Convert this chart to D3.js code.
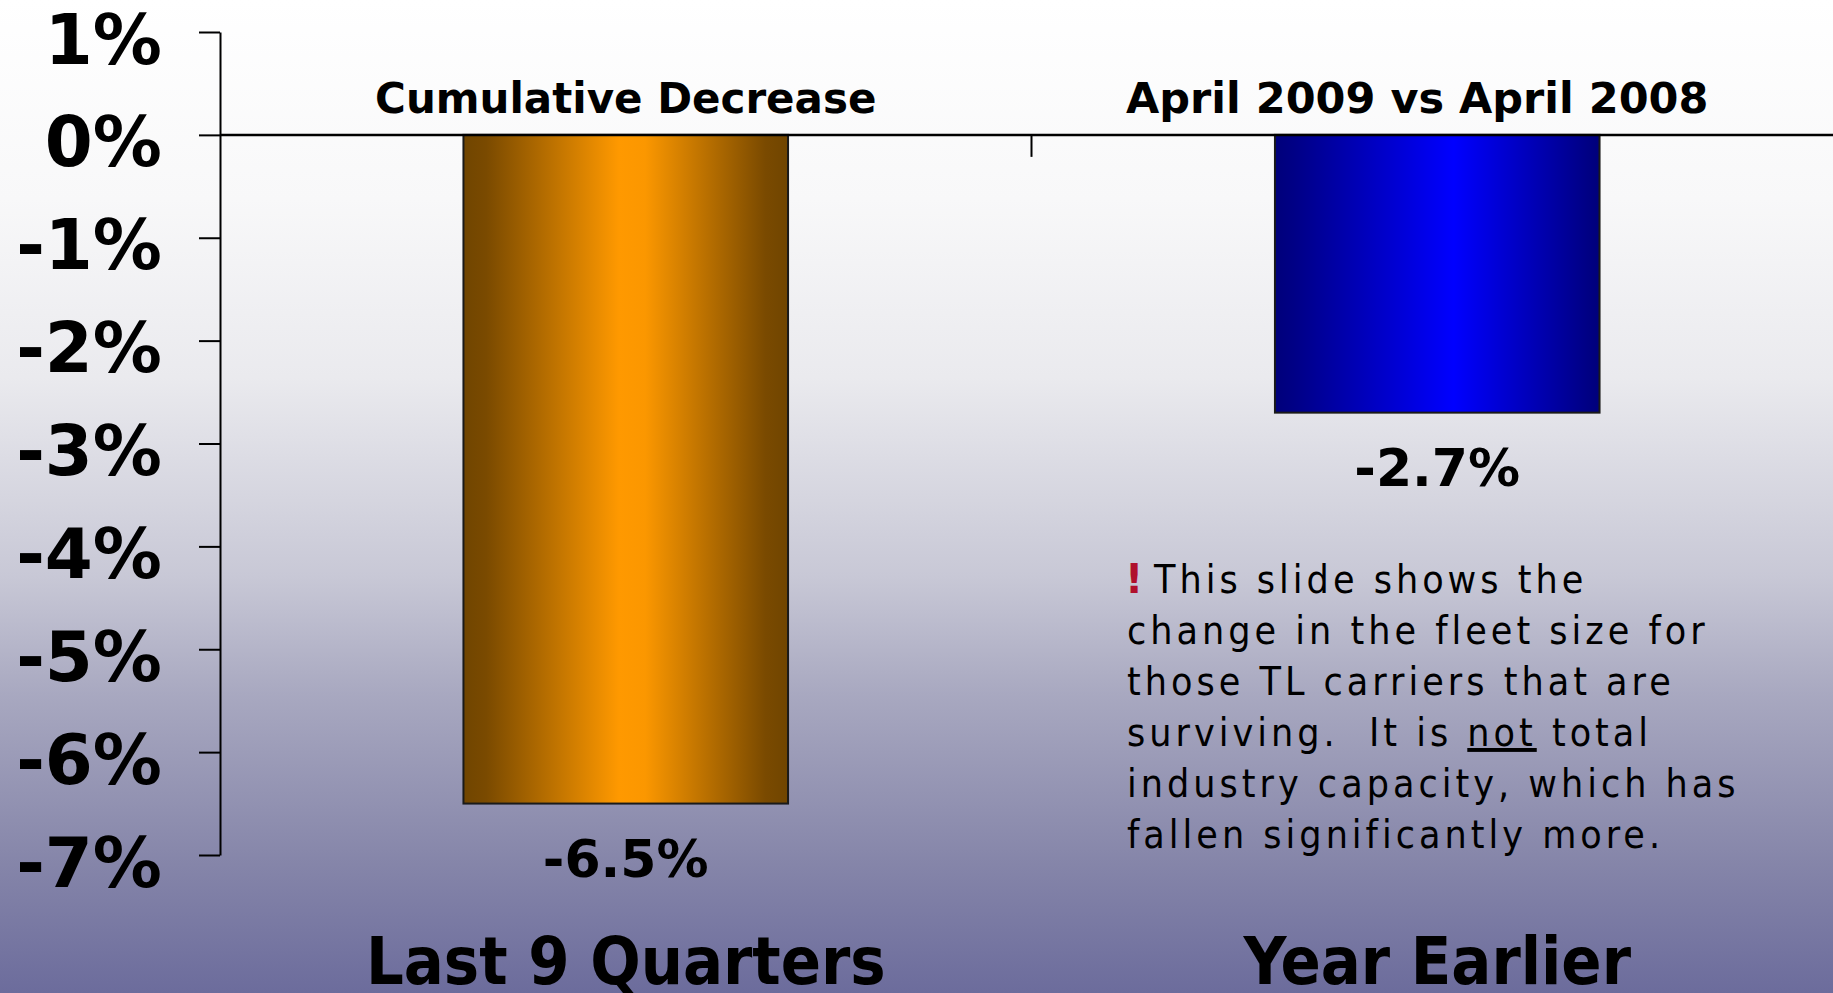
<!DOCTYPE html>
<html>
<head>
<meta charset="utf-8">
<script src="https://cdn.jsdelivr.net/npm/d3@7"></script>
<style>
    html, body { margin: 0; padding: 0; overflow: hidden; }
    #chart { width: 1833px; height: 993px; }
</style>
</head>
<body>
<div id="chart"></div>
<script>
var categories = ['Last 9 Quarters', 'Year Earlier'];
var values = [-6.5, -2.7];
var value_labels = ['-6.5%', '-2.7%'];
var subtitles = ['Cumulative Decrease', 'April 2009 vs April 2008'];
var y_ticks = [1, 0, -1, -2, -3, -4, -5, -6, -7];
var note_lines = [
    'This slide shows the',
    'change in the fleet size for',
    'those TL carriers that are',
    'surviving.  It is |not| total',
    'industry capacity, which has',
    'fallen significantly more.'
];

var width = 1833, height = 993;
var margin = {top: 32, left: 220, bottom: 138};

var svg = d3.select('#chart')
    .append('svg')
    .attr('width', width)
    .attr('height', height);

let defs = svg.append('defs');

// slide background
let bg = defs.append('linearGradient')
    .attr('id', 'bg-grad')
    .attr('x1', 0).attr('y1', 0).attr('x2', 0).attr('y2', 1);
[[0, '#ffffff'], [0.2, '#f8f8f9'], [0.38, '#eaeaee'], [0.58, '#c8c8d6'],
 [0.7, '#a8a8c0'], [0.87, '#8585a9'], [1, '#6c6c9c']].forEach(function(s) {
    bg.append('stop').attr('offset', s[0]).attr('stop-color', s[1]);
});

// bar fills, dark edges and bright middle
let bar_grads = [
    {id: 'grad-0', stops: [[0, '#704500'], [0.07, '#7a4a00'], [0.48, '#ff9900'], [0.56, '#fb9700'], [0.93, '#7a4a00'], [1, '#704500']]},
    {id: 'grad-1', stops: [[0, '#00007a'], [0.06, '#000086'], [0.55, '#0000ff'], [0.95, '#000088'], [1, '#00007a']]}
];
bar_grads.forEach(function(g) {
    let lg = defs.append('linearGradient')
        .attr('id', g.id)
        .attr('x1', 0).attr('y1', 0).attr('x2', 1).attr('y2', 0);
    g.stops.forEach(function(s) {
        lg.append('stop').attr('offset', s[0]).attr('stop-color', s[1]);
    });
});

svg.append('rect')
    .attr('width', width)
    .attr('height', height)
    .attr('fill', 'url(#bg-grad)');

let x = d3.scaleBand()
    .domain(categories)
    .range([margin.left, 1843])
    .paddingInner(0.6)
    .paddingOuter(0.3);

let y = d3.scaleLinear()
    .domain([-7, 1])
    .range([855, margin.top]);

// bars
svg.selectAll('.bar')
    .data(categories)
    .enter().append('rect')
    .attr('class', 'bar')
    .attr('x', function(d) { return x(d); })
    .attr('y', y(0))
    .attr('width', x.bandwidth())
    .attr('height', function(d, i) { return y(values[i]) - y(0); })
    .attr('fill', function(d, i) { return 'url(#grad-' + i + ')'; })
    .attr('stroke', '#1a1a1a')
    .attr('stroke-width', 2);

// y axis
let y_axis = svg.append('g')
    .attr('transform', 'translate(' + margin.left + ',0)')
    .call(d3.axisLeft(y)
        .tickValues(y_ticks)
        .tickFormat(function(d) { return d + '%'; })
        .tickSize(21)
        .tickSizeOuter(0)
        .tickPadding(37));

y_axis.select('.domain').attr('stroke', '#000').attr('stroke-width', 2);
y_axis.selectAll('.tick line').attr('stroke', '#000').attr('stroke-width', 2);
y_axis.selectAll('.tick text')
    .attr('dy', '0.45em')
    .attr('fill', '#000')
    .style('font-family', '"DejaVu Sans", Verdana, sans-serif')
    .style('font-weight', 'bold')
    .style('font-size', '69px');

// category axis along zero
svg.append('line')
    .attr('x1', margin.left)
    .attr('x2', 1843)
    .attr('y1', y(0))
    .attr('y2', y(0))
    .attr('stroke', '#000')
    .attr('stroke-width', 2.5);

svg.selectAll('.cat-tick')
    .data(categories.slice(1))
    .enter().append('line')
    .attr('class', 'cat-tick')
    .attr('x1', function(d) { return x(d) - x.step() * x.paddingInner() / 2; })
    .attr('x2', function(d) { return x(d) - x.step() * x.paddingInner() / 2; })
    .attr('y1', y(0))
    .attr('y2', y(0) + 22)
    .attr('stroke', '#000')
    .attr('stroke-width', 2);

// subtitles above the zero line (second one sits a little left of its bar)
let subtitle_shift = [0, -20];
svg.selectAll('.subtitle')
    .data(subtitles)
    .enter().append('text')
    .attr('class', 'subtitle')
    .attr('x', function(d, i) { return x(categories[i]) + x.bandwidth() / 2 + subtitle_shift[i]; })
    .attr('y', 113)
    .attr('text-anchor', 'middle')
    .style('font-family', '"DejaVu Sans", Verdana, sans-serif')
    .style('font-weight', 'bold')
    .style('font-size', function(d, i) { return i === 0 ? '42px' : '43px'; })
    .text(function(d) { return d; });

// value labels under the bars
svg.selectAll('.value-label')
    .data(value_labels)
    .enter().append('text')
    .attr('class', 'value-label')
    .attr('x', function(d, i) { return x(categories[i]) + x.bandwidth() / 2; })
    .attr('y', function(d, i) { return y(values[i]) + 73; })
    .attr('text-anchor', 'middle')
    .style('font-family', '"DejaVu Sans", Verdana, sans-serif')
    .style('font-weight', 'bold')
    .style('font-size', '52px')
    .text(function(d) { return d; });

// category labels at the bottom
svg.selectAll('.cat-label')
    .data(categories)
    .enter().append('text')
    .attr('class', 'cat-label')
    .attr('x', function(d) { return x(d) + x.bandwidth() / 2; })
    .attr('y', 984)
    .attr('text-anchor', 'middle')
    .style('font-family', '"DejaVu Sans Condensed", "DejaVu Sans", sans-serif')
    .style('font-weight', 'bold')
    .style('font-size', '66px')
    .text(function(d) { return d; });

// note box
let note = svg.append('g').attr('class', 'note');
let note_x = 1127, note_y = 593, line_h = 51;

note.append('text')
    .attr('x', note_x - 2)
    .attr('y', note_y)
    .attr('fill', '#b0102c')
    .style('font-family', '"DejaVu Sans", sans-serif')
    .style('font-weight', 'bold')
    .style('font-size', '40px')
    .text('!');

note_lines.forEach(function(line, i) {
    let t = note.append('text')
        .attr('x', i === 0 ? note_x + 27 : note_x)
        .attr('y', note_y + i * line_h)
        .attr('fill', '#000')
        .style('font-family', '"DejaVu Sans Condensed", "DejaVu Sans", sans-serif')
        .style('font-size', '39px')
        .style('letter-spacing', '4px')
        .style('white-space', 'pre');
    line.split('|').forEach(function(part, j) {
        let span = t.append('tspan').text(part);
        if (j === 1) span.style('text-decoration', 'underline');
    });
});
</script>
</body>
</html>
